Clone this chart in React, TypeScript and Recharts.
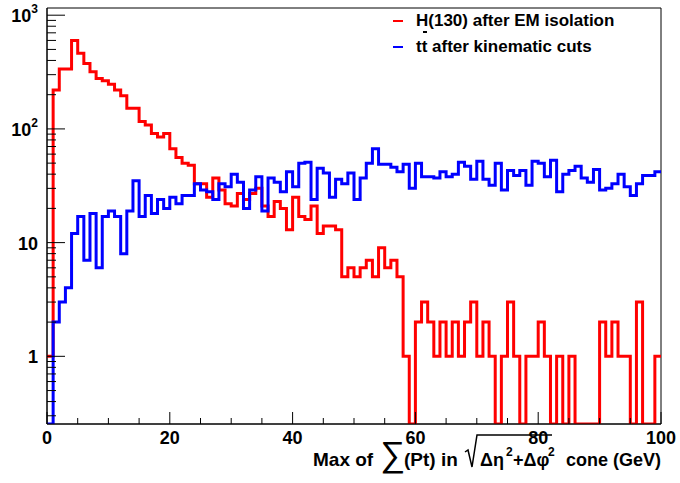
import { Legend, Line, LineChart, ReferenceArea, XAxis, YAxis } from "recharts";

const FONT = "'Liberation Sans', Arial, Helvetica, sans-serif";

// low edge of each 1 GeV bin, 0..99
const BIN_EDGES = Array.from({ length: 100 }, (_, i) => i);
const X_MAX = 100;

// H(130) after EM isolation
const HIGGS = [
  1, 220, 336, 336, 600, 462, 377, 318, 278, 265,
  247, 220, 196, 152, 152, 116, 108, 91, 85, 91,
  67, 56, 50, 48, 33, 33, 25, 37, 29, 22,
  21, 27, 24, 27, 30, 21, 17, 23, 20, 13,
  25, 17, 16, 21, 12, 14, 14, 13, 5, 6,
  5, 6, 7, 5, 9, 6, 7, 5, 1, 0,
  2, 3, 2, 1, 2, 1, 2, 1, 2, 3,
  1, 2, 1, 0, 1, 3, 1, 0, 1, 1,
  2, 1, 0, 1, 0, 1, 0, 0, 0, 0,
  2, 1, 2, 1, 1, 0, 3, 0, 0, 1,
];

// tt after kinematic cuts
const TTBAR = [
  0, 2, 3, 4, 12, 17, 7, 18, 6, 17,
  19, 17, 8, 19, 35, 17, 26, 18, 24, 20,
  25, 22, 26, 26, 33, 29, 28, 24, 33, 31,
  40, 34, 20, 29, 38, 19, 37, 34, 28, 42,
  31, 50, 51, 24, 45, 41, 25, 36, 33, 41,
  24, 37, 50, 67, 49, 49, 46, 42, 49, 30,
  50, 38, 38, 37, 42, 38, 40, 51, 47, 36,
  52, 36, 32, 50, 29, 43, 39, 43, 32, 52,
  50, 38, 53, 28, 40, 43, 47, 37, 34, 44,
  29, 30, 33, 40, 31, 26, 33, 39, 39, 42,
];

const X_TICKS = [0, 5, 10, 15, 20, 25, 30, 35, 40, 45, 50, 55, 60, 65, 70, 75, 80, 85, 90, 95, 100];
const Y_MIN = 0.254;
const Y_MAX = 1157;
const DECADES = [0.1, 1, 10, 100, 1000];
const Y_TICKS = DECADES.flatMap((d) => [1, 2, 3, 4, 5, 6, 7, 8, 9].map((m) => m * d)).filter(
  (v) => v >= Y_MIN && v <= Y_MAX,
);

// empty bins sit on the bottom of the log frame
const floorZero = (v: number) => (v > 0 ? v : Y_MIN);

const data = [...BIN_EDGES, X_MAX].map((x, i) => {
  const k = Math.min(i, BIN_EDGES.length - 1);
  return { x, higgs: floorZero(HIGGS[k]), ttbar: floorZero(TTBAR[k]) };
});

function XTick({ x, y, payload }: any) {
  const v = payload.value;
  const major = v % 20 === 0;
  return (
    <g>
      <line x1={x} x2={x} y1={y} y2={y - (major ? 12 : 6)} stroke="#000" />
      {major && (
        <text x={x} y={y + 20} textAnchor="middle" fontFamily={FONT} fontWeight="bold" fontSize={18} fill="#000">
          {v}
        </text>
      )}
    </g>
  );
}

function YTick({ x, y, payload }: any) {
  const v = payload.value;
  const exp = Math.round(Math.log10(v));
  const major = Math.abs(v - Math.pow(10, exp)) < v * 1e-6;
  return (
    <g>
      <line x1={x} x2={x + (major ? 18 : 9)} y1={y} y2={y} stroke="#000" />
      {major && (
        <text x={38} y={y + 7} textAnchor="end" fontFamily={FONT} fontWeight="bold" fontSize={18} fill="#000">
          {exp === 0 ? "1" : "10"}
          {exp >= 2 && (
            <tspan dy={-9} fontSize={12}>
              {exp}
            </tspan>
          )}
        </text>
      )}
    </g>
  );
}

function AxisTitle({ viewBox }: any) {
  const r = viewBox.x + viewBox.width;
  const base = viewBox.y + 42;
  const t = { fontFamily: FONT, fontWeight: "bold", fill: "#000" } as const;
  return (
    <g>
      <text x={r - 348} y={base} fontSize={19} {...t}>Max of</text>
      <text x={r - 281} y={base} fontSize={35} fontFamily={FONT} fill="#000">∑</text>
      <text x={r - 257} y={base} fontSize={19} {...t}>(Pt) in</text>
      <path
        d={`M${r - 196} ${base - 14} L${r - 193} ${base - 16} L${r - 189} ${base + 1} L${r - 184} ${base - 31} L${r - 109} ${base - 31}`}
        fill="none"
        stroke="#000"
        strokeWidth={1.5}
      />
      <text x={r - 181} y={base} fontSize={18} {...t}>Δη</text>
      <text x={r - 155} y={base - 10} fontSize={12} {...t}>2</text>
      <text x={r - 148} y={base} fontSize={18} {...t}>+Δφ</text>
      <text x={r - 113} y={base - 10} fontSize={12} {...t}>2</text>
      <text x={r} y={base} textAnchor="end" fontSize={18} {...t}>cone (GeV)</text>
    </g>
  );
}

function HistLegend({ payload }: any) {
  return (
    <div style={{ fontFamily: FONT, fontWeight: "bold", fontSize: 17, color: "#000", position: "relative" }}>
      {(payload ?? []).map((p: any, i: number) => (
        <div key={p.value} style={{ display: "flex", alignItems: "center", height: 26, position: "relative" }}>
          <span style={{ display: "inline-block", width: 10, height: 1.5, background: p.color, marginRight: 13 }} />
          <span style={{ lineHeight: "26px" }}>{p.value}</span>
          {i === 0 && (
            <span style={{ position: "absolute", left: 30, top: 23, width: 4, height: 1.5, background: "#000" }} />
          )}
        </div>
      ))}
    </div>
  );
}

export default function App() {
  return (
    <div style={{ position: "absolute", left: 0, top: 0, width: 680, height: 483, background: "#fff" }}>
      <LineChart width={680} height={483} data={data} margin={{ top: 8, right: 19, bottom: 0, left: 0 }}>
        <XAxis
          dataKey="x"
          type="number"
          domain={[0, X_MAX]}
          ticks={X_TICKS}
          interval={0}
          height={59}
          tickSize={0}
          tickMargin={0}
          tickLine={false}
          axisLine={{ stroke: "#000" }}
          tick={<XTick />}
          label={{ content: (props: any) => <AxisTitle {...props} /> }}
        />
        <YAxis
          type="number"
          scale="log"
          domain={[Y_MIN, Y_MAX]}
          allowDataOverflow
          ticks={Y_TICKS}
          interval={0}
          width={47}
          tickSize={0}
          tickMargin={0}
          tickLine={false}
          axisLine={{ stroke: "#000" }}
          tick={<YTick />}
        />
        <ReferenceArea x1={0} x2={X_MAX} y1={Y_MIN} y2={Y_MAX} fill="none" stroke="#000" ifOverflow="visible" />
        <Line
          dataKey="higgs"
          name="H(130) after EM isolation"
          type="stepAfter"
          stroke="#ff0000"
          strokeWidth={3}
          dot={false}
          isAnimationActive={false}
        />
        <Line
          dataKey="ttbar"
          name="tt after kinematic cuts"
          type="stepAfter"
          stroke="#0000ff"
          strokeWidth={3}
          dot={false}
          isAnimationActive={false}
        />
        <Legend
          layout="vertical"
          align="center"
          verticalAlign="middle"
          width={280}
          wrapperStyle={{ left: 393, top: 8 }}
          content={<HistLegend />}
        />
      </LineChart>
    </div>
  );
}
